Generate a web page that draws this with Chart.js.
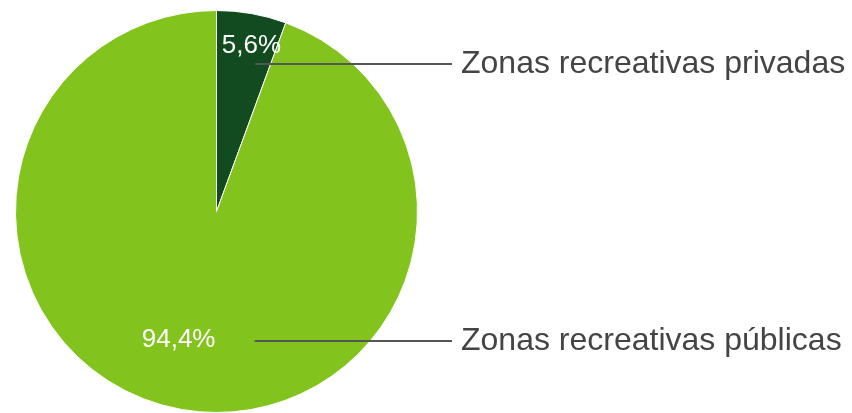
<!DOCTYPE html>
<html>
<head>
<meta charset="utf-8">
<script src="https://cdn.jsdelivr.net/npm/chart.js@4.4.1/dist/chart.umd.min.js"></script>
<style>
  html, body { margin: 0; padding: 0; background: #fff; }
  #wrap { width: 852px; height: 413px; position: relative; }
</style>
</head>
<body>
<div id="wrap"><canvas id="pie"></canvas></div>
<script>
const categories = ['Zonas recreativas privadas', 'Zonas recreativas públicas'];
const shares = [5.6, 94.4];
const sliceColors = ['#134b20', '#83c31d'];

// percent text inside each slice: [degrees past the slice middle, fraction of radius]
const pctSpots = [[1.7, 0.853], [6.6, 0.657]];
// where each leader line leaves the slice: [degrees clockwise from 12 o'clock, fraction of radius]
const leaderSpots = [[14.7, 0.7586], [163.6, 0.672]];

const fmtPct = (v) => v.toFixed(1).replace('.', ',') + '%';

const sideLabels = {
  id: 'sideLabels',
  afterDatasetsDraw(chart) {
    const { ctx, chartArea } = chart;
    const arcs = chart.getDatasetMeta(0).data;
    const lineEnd = chartArea.right + 34;
    const textX = chartArea.right + 43;
    ctx.save();
    arcs.forEach((arc, i) => {
      const { x, y, startAngle, endAngle, outerRadius } = arc.getProps(['x', 'y', 'startAngle', 'endAngle', 'outerRadius'], true);

      // percentage inside the slice
      const mid = (startAngle + endAngle) / 2 + pctSpots[i][0] * Math.PI / 180;
      const pr = outerRadius * pctSpots[i][1];
      ctx.font = '26px "Liberation Sans", Arial, sans-serif';
      ctx.fillStyle = '#ffffff';
      ctx.textAlign = 'center';
      ctx.textBaseline = 'alphabetic';
      ctx.fillText(fmtPct(shares[i]), x + Math.cos(mid) * pr, y + Math.sin(mid) * pr + 0.36 * 26);

      // leader line out to the category name
      const a = (leaderSpots[i][0] - 90) * Math.PI / 180;
      const lr = outerRadius * leaderSpots[i][1];
      const sx = x + Math.cos(a) * lr;
      const sy = Math.round(y + Math.sin(a) * lr);
      ctx.strokeStyle = '#555555';
      ctx.lineWidth = 2;
      ctx.beginPath();
      ctx.moveTo(sx, sy);
      ctx.lineTo(lineEnd, sy);
      ctx.stroke();

      ctx.font = '32px "Liberation Sans", Arial, sans-serif';
      ctx.fillStyle = '#444444';
      ctx.textAlign = 'left';
      ctx.fillText(categories[i], textX, sy + 8.5);
    });
    ctx.restore();
  },
};

new Chart(document.getElementById('pie'), {
  type: 'pie',
  data: {
    labels: categories,
    datasets: [{
      data: shares,
      backgroundColor: sliceColors,
      borderColor: '#ffffff',
      borderWidth: 1,
    }],
  },
  options: {
    responsive: true,
    maintainAspectRatio: false,
    animation: false,
    radius: 201,
    layout: { padding: { left: 15, right: 434, top: 10, bottom: 0 } },
    plugins: { legend: { display: false }, tooltip: { enabled: false } },
  },
  plugins: [sideLabels],
});
</script>
</body>
</html>
